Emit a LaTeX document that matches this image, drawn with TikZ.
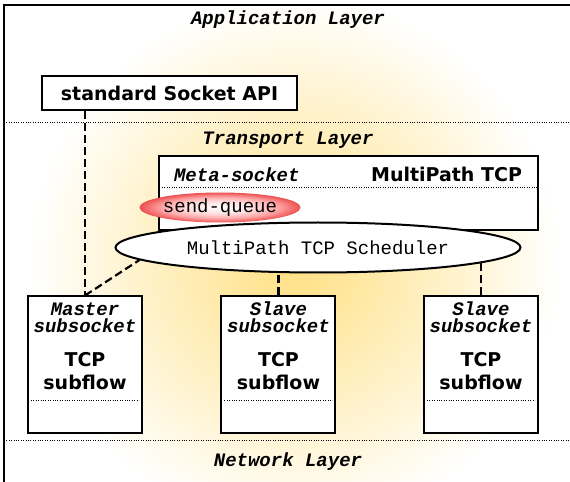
\documentclass[tikz,border=0pt]{standalone}
\usepackage{fontspec}
\setsansfont{DejaVu Sans}
\setmonofont{Liberation Mono}
\usepackage{tikz}
\usetikzlibrary{shapes.geometric,calc}

\definecolor{glow}{RGB}{255,224,130}
\definecolor{queuered}{RGB}{236,80,80}
\pgfdeclareradialshading{queueglow}{\pgfpoint{0bp}{0bp}}{%
    color(0bp)=(white); color(10bp)=(red!12); color(18bp)=(red!35);
    color(25bp)=(queuered); color(50bp)=(queuered)}

\begin{document}
\begin{tikzpicture}[
    x=0.5pt, y=-0.5pt,
    box/.style={draw, line width=1pt, fill=white, inner sep=0pt},
    layername/.style={font=\ttfamily\bfseries\itshape\fontsize{9.5}{11}\selectfont, anchor=base},
    tag/.style={font=\ttfamily\bfseries\itshape\fontsize{9.5}{11}\selectfont, anchor=base},
    heading/.style={font=\sffamily\bfseries\fontsize{9.5}{11}\selectfont},
    code/.style={font=\ttfamily\fontsize{9.5}{11}\selectfont},
    sep/.style={line width=0.5pt, dash pattern=on 0.5pt off 0.7pt},
    link/.style={line width=1.1pt, dash pattern=on 4pt off 2pt}
]
\useasboundingbox (0,0) rectangle (570,482);

% soft yellow background
\begin{scope}
    \clip (4,5) rectangle (570,482);
    \shade[inner color=glow, outer color=white] (295,262) circle (265);
\end{scope}
\draw[line width=1.2pt, line join=miter] (570,5) -- (4,5) -- (4,482);

% layer separators and names
\draw[sep] (4,123) -- (570,123);
\draw[sep] (4,441) -- (570,441);
\node[layername] (app) at (288,25) {Application Layer};
\node[layername] (transport) at (288,145) {Transport Layer};
\node[layername] (network) at (288,467) {Network Layer};

\node[box, heading, minimum width=127.5pt, minimum height=17pt] (api) at (169.5,93) {standard Socket API};

% meta-socket
\node[box, minimum width=189.5pt, minimum height=37pt] (meta) at (348.5,193) {};
\draw[sep] ($(meta.north west)+(4,33)$) -- ($(meta.north east)+(-1,33)$);
\node[tag, anchor=base west] (metatag) at ($(meta.north west)+(9,27)$) {Meta-socket};
\node[heading, anchor=base east] (mptcp) at ($(meta.north east)+(-10,27)$) {MultiPath TCP};
\node[ellipse, code, shading=queueglow, minimum width=65pt, minimum height=15pt, inner sep=0pt] (queue) at (220,207.5) {send-queue};
\node[ellipse, draw, line width=1pt, fill=white, code, minimum width=202.5pt, minimum height=25pt, inner sep=0pt] (sched) at (318,247.5) {MultiPath TCP Scheduler};

% subsockets
\foreach \name/\x/\role in {master/85/Master, slave1/278.5/Slave, slave2/481/Slave} {
    \node[box, minimum width=57pt, minimum height=68.5pt] (\name) at (\x,365) {};
    \node[tag] (\name-role) at ($(\name.north)+(0,20)$) {\role};
    \node[tag] (\name-sock) at ($(\name.north)+(0,37)$) {subsocket};
    \node[heading, anchor=base] (\name-tcp) at ($(\name.north)+(0,71)$) {TCP};
    \node[heading, anchor=base] (\name-flow) at ($(\name.north)+(0,94)$) {subflow};
    \draw[sep] ($(\name.north west)+(4,105)$) -- ($(\name.north east)+(-4,105)$);
}

\draw[link] (api.south -| master.north) -- (master.north);
\draw[link] (master.north) -- (sched.184);
\draw[link] (slave1.north) -- (slave1.north |- sched.south);
\draw[link] (slave2.north) -- (slave2.north |- sched.-5);
\end{tikzpicture}
\end{document}
